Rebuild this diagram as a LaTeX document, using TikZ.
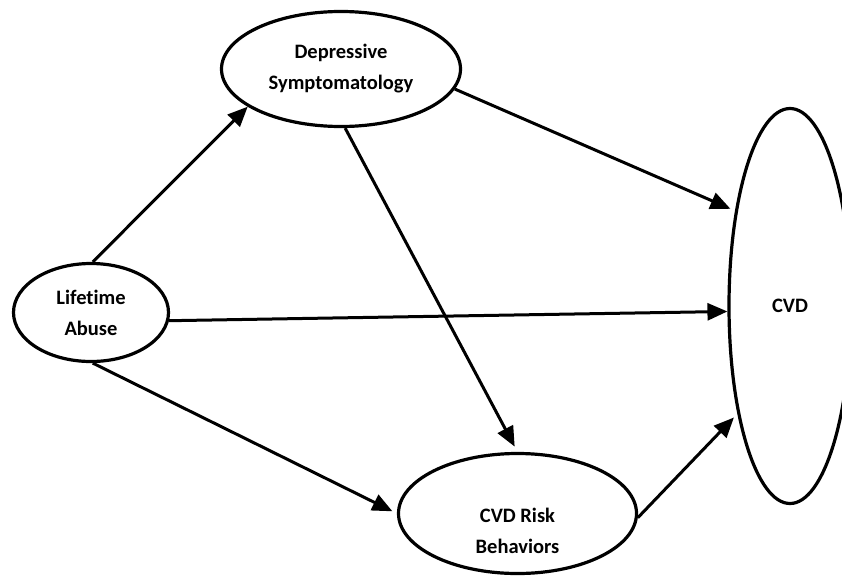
\documentclass[tikz,border=0pt]{standalone}
\usepackage{fontspec}
\setmainfont{Carlito}[Ligatures=NoCommon]
\usetikzlibrary{shapes.geometric, arrows.meta}
\tikzstyle{arrow} = [line width=3pt, -{Triangle[length=20pt, width=17pt]}]
\tikzset{latent/.style={ellipse, draw, line width=3.2pt, inner sep=0pt, align=center, font=\bfseries\fontsize{20.5}{31}\selectfont}}

\begin{document}
\begin{tikzpicture}[x=1pt, y=-1pt]
    \useasboundingbox (0,0) rectangle (842,578);
    % Draw the four variables
    \node[latent, minimum width=239pt, minimum height=115pt] (dep) at (341,69) {Depressive\\Symptomatology};
    \node[latent, minimum width=155pt, minimum height=98pt] (lt) at (91,312.5) {Lifetime\\Abuse};
    \node[latent, minimum width=238pt, minimum height=120pt,
          label={[name=risktext, yshift=-17pt, align=center, font=\bfseries\fontsize{20.5}{31}\selectfont]center:CVD Risk\\Behaviors}] (risk) at (517.5,513.5) {};
    \node[latent, minimum width=122pt, minimum height=395pt] (cvd) at (790,306) {\raisebox{-5pt}{CVD}};

    % Draw the paths
    \draw[arrow] (lt.88) -- (dep.202);
    \draw[arrow, shorten >=5pt] (dep.-10) -- (cvd.120);
    \draw[arrow, shorten >=6pt] (dep.-86) -- (risk.north);
    \draw[arrow] (lt.-6) -- (cvd.185);
    \draw[arrow, shorten >=5pt] (lt.-88) -- (risk.west);
    \draw[arrow, shorten >=5pt] (risk.-2) -- (cvd.244);
\end{tikzpicture}
\end{document}
